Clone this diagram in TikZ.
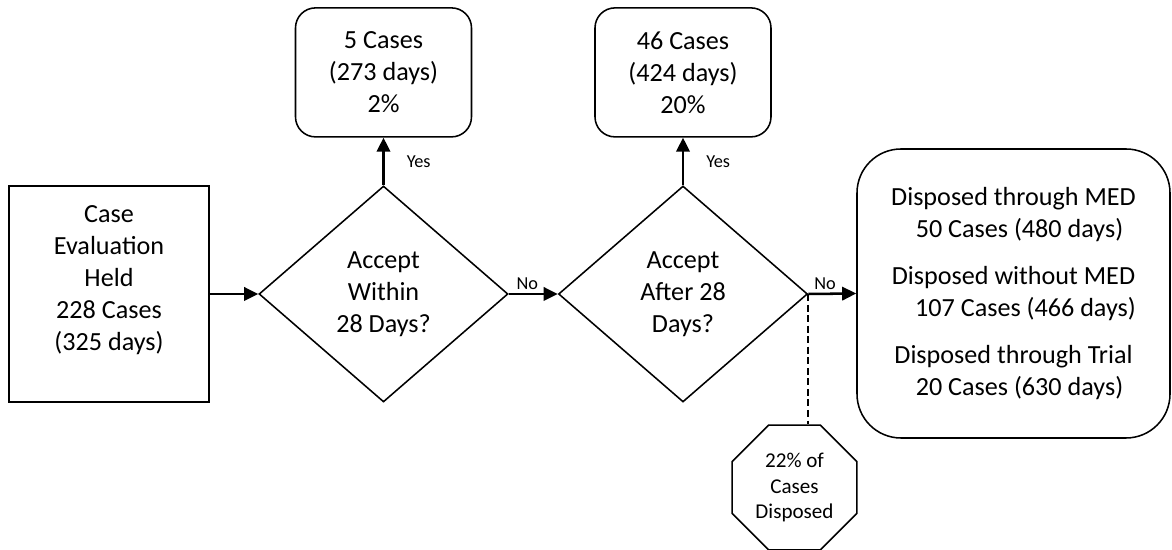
\documentclass[tikz,border=0pt]{standalone}
\usepackage{fontspec}
\setmainfont{Carlito}
\usetikzlibrary{arrows.meta,shapes.geometric,positioning}

\begin{document}
\begin{tikzpicture}[>={Triangle[length=10pt,width=9.5pt]},
  every node/.style={align=center,font=\fontsize{18.6}{22.7}\selectfont},
  sqbox/.style={draw,line width=1.1pt,minimum width=5cm,minimum height=5.4cm,inner sep=0pt},
  rbox/.style={draw,line width=1.1pt,rounded corners=0.5cm,minimum width=4.4cm,minimum height=3.225cm,inner sep=0pt},
  decision/.style={draw,diamond,line width=1.1pt,minimum width=6.225cm,minimum height=5.4cm,inner sep=0pt},
  stopsign/.style={draw,regular polygon,regular polygon sides=8,line width=1.1pt,minimum size=3.38cm,inner sep=0pt,
    font=\fontsize{15}{18.4}\selectfont},
  flow/.style={->,line width=1.8pt},
  lbl/.style={font=\fontsize{13}{15}\selectfont}]
  \useasboundingbox (0,0) rectangle (29.3,13.75);
  % start box
  \node[sqbox] (held) at (2.725,6.4) {Case\\Evaluation\\Held\\228 Cases\\(325 days)\\\mbox{}};
  % decisions
  \node[decision] (within) at (9.5875,6.4) {Accept\\Within\\28 Days?};
  \node[decision] (after) at (17.075,6.4) {Accept\\After 28\\Days?};
  % accepted
  \node[rbox] (early) at (9.5875,11.94) {5 Cases\\(273 days)\\2\%};
  \node[rbox] (late) at (17.075,11.94) {46 Cases\\(424 days)\\20\%};
  % not accepted
  \node[draw,line width=1.1pt,rounded corners=1.1cm,minimum width=7.825cm,minimum height=7.225cm,inner sep=0pt]
    (rest) at (25.3375,6.4125)
    {Disposed through MED\\\hspace*{8.5pt}50 Cases (480 days)\\[11pt]
     Disposed without MED\\\hspace*{17pt}107 Cases (466 days)\\[11pt]
     Disposed through Trial\\\hspace*{8.5pt}20 Cases (630 days)};
  \node[stopsign] (gone) at (19.8625,1.5625) {22\% of\\Cases\\Disposed};

  \draw[flow] (held.east) -- (within.west);
  \draw[flow] (within.east) -- node[lbl,above,pos=0.38,inner sep=2pt] {No} (after.west);
  \draw[flow] (after.east) -- node[lbl,above,pos=0.35,inner sep=2pt] {No} (rest.west);
  \draw[flow] (within.north) -- node[lbl,anchor=west,inner sep=0pt,xshift=0.55cm] {Yes} (early.south);
  \draw[flow] (after.north) -- node[lbl,anchor=west,inner sep=0pt,xshift=0.55cm] {Yes} (late.south);
  \draw[line width=1.3pt,dash pattern=on 5pt off 2.5pt] (after.east) -- (after.east |- gone.north);
\end{tikzpicture}
\end{document}
